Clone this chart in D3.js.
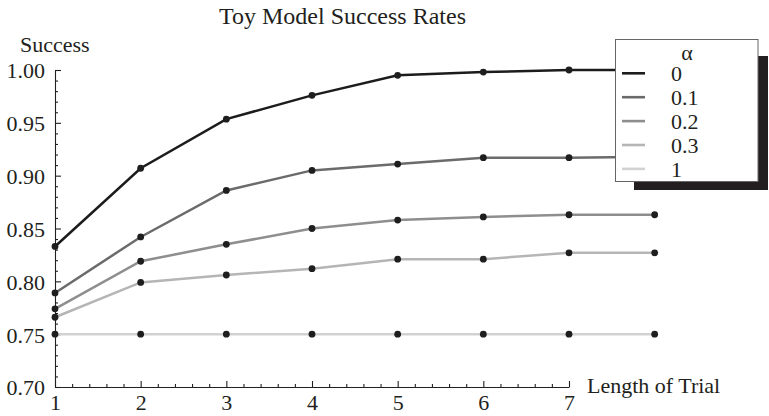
<!DOCTYPE html>
<html>
<head>
<meta charset="utf-8">
<script src="https://cdn.jsdelivr.net/npm/d3@7"></script>
<style>
  body { margin: 0; background: #fff; }
  svg { display: block; }
  text { font-family: "Liberation Serif", "DejaVu Serif", serif; fill: #231f20; }
</style>
</head>
<body>
<svg id="chart" width="769" height="416"></svg>
<script>
// ---- data ----
const trialLengths = [1, 2, 3, 4, 5, 6, 7, 8];
const alphaLabels = ["0", "0.1", "0.2", "0.3", "1"];
const success_a0   = [0.833, 0.907, 0.9535, 0.976, 0.995, 0.998, 1.000, 1.000];
const success_a01  = [0.789, 0.842, 0.886, 0.905, 0.911, 0.917, 0.917, 0.918];
const success_a02  = [0.774, 0.819, 0.835, 0.850, 0.858, 0.861, 0.863, 0.863];
const success_a03  = [0.766, 0.799, 0.806, 0.812, 0.821, 0.821, 0.827, 0.827];
const success_a1   = [0.750, 0.750, 0.750, 0.750, 0.750, 0.750, 0.750, 0.750];
const xTickLabels = [1, 2, 3, 4, 5, 6, 7];
const yTickLabels = [0.70, 0.75, 0.80, 0.85, 0.90, 0.95, 1.00];
const seriesColors = ["#1c1c1c", "#6b6b6b", "#8e8e8e", "#b5b5b5", "#d2d2d2"];

const seriesValues = [success_a0, success_a01, success_a02, success_a03, success_a1];
const series = alphaLabels.map((a, i) => ({
  alpha: a,
  color: seriesColors[i],
  points: trialLengths.map((t, j) => ({ x: t, y: seriesValues[i][j] }))
}));

const svg = d3.select("#chart");
const x = d3.scaleLinear().domain([1, 7]).range([55, 569]);
const y = d3.scaleLinear().domain([0.70, 1.00]).range([387, 70]);

// ---- axes ----
const fontSize = 22;
const yMinor = d3.range(70, 101).map(v => v / 100).filter(v => Math.round(v * 100) % 5 !== 0);
const xMinor = d3.range(5, 36).map(v => v / 5).filter(v => Math.round(v * 5) % 5 !== 0);

const gy = svg.append("g").attr("transform", `translate(${x(1)},0)`);
gy.call(d3.axisLeft(y).tickValues(yTickLabels).tickFormat(d3.format(".2f"))
  .tickSize(-6).tickSizeOuter(0).tickPadding(10));
const gyMinor = svg.append("g").attr("transform", `translate(${x(1)},0)`);
gyMinor.call(d3.axisLeft(y).tickValues(yMinor).tickFormat("").tickSize(-3).tickSizeOuter(0));
gyMinor.select(".domain").remove();

const gx = svg.append("g").attr("transform", `translate(0,${y(0.70)})`);
gx.call(d3.axisBottom(x).tickValues(xTickLabels).tickFormat(d3.format("d"))
  .tickSize(-6).tickSizeOuter(0).tickPadding(7));
const gxMinor = svg.append("g").attr("transform", `translate(0,${y(0.70)})`);
gxMinor.call(d3.axisBottom(x).tickValues(xMinor).tickFormat("").tickSize(-3).tickSizeOuter(0));
gxMinor.select(".domain").remove();

svg.selectAll(".tick line, .domain").attr("stroke", "#231f20").attr("stroke-width", 1.1);
svg.selectAll(".tick text")
  .style("font-family", '"Liberation Serif", serif')
  .style("font-size", fontSize + "px")
  .attr("fill", "#231f20");
gy.selectAll(".tick text").attr("dy", "0.36em");

// ---- lines & points ----
const line = d3.line().x(d => x(d.x)).y(d => y(d.y));
const gs = svg.append("g");
gs.selectAll("path.series").data(series.slice().reverse()).join("path")
  .attr("class", "series")
  .attr("d", d => line(d.points))
  .attr("fill", "none")
  .attr("stroke", d => d.color)
  .attr("stroke-width", 2.5);

gs.selectAll("g.pts").data(series).join("g").attr("class", "pts")
  .selectAll("circle").data(d => d.points).join("circle")
  .attr("cx", d => x(d.x)).attr("cy", d => y(d.y)).attr("r", 3.4)
  .attr("fill", "#1e1e1e");

// ---- text labels ----
svg.append("text").attr("x", 342.5).attr("y", 24).attr("text-anchor", "middle")
  .style("font-size", "24px").text("Toy Model Success Rates");
svg.append("text").attr("x", 20).attr("y", 52)
  .style("font-size", "22px").text("Success");
svg.append("text").attr("x", 587).attr("y", 393)
  .style("font-size", "22px").text("Length of Trial");

// ---- legend ----
const lg = svg.append("g").attr("transform", "translate(615,39)");
lg.append("rect").attr("x", 19).attr("y", 17).attr("width", 134).attr("height", 134)
  .attr("fill", "#231f20");
lg.append("rect").attr("x", 0.5).attr("y", 0.5).attr("width", 142.5).attr("height", 142)
  .attr("fill", "#fff").attr("stroke", "#666").attr("stroke-width", 1);
lg.append("text").attr("x", 72).attr("y", 21).attr("text-anchor", "middle")
  .style("font-size", "22px").text("α");
const items = lg.selectAll("g.item").data(series).join("g").attr("class", "item")
  .attr("transform", (d, i) => `translate(0,${34.3 + i * 23.9})`);
items.append("line").attr("x1", 7).attr("x2", 30).attr("y1", 0).attr("y2", 0)
  .attr("stroke", d => d.color).attr("stroke-width", 2.6);
items.append("text").attr("x", 56).attr("y", 8)
  .style("font-size", "22px").text(d => d.alpha);
</script>
</body>
</html>
